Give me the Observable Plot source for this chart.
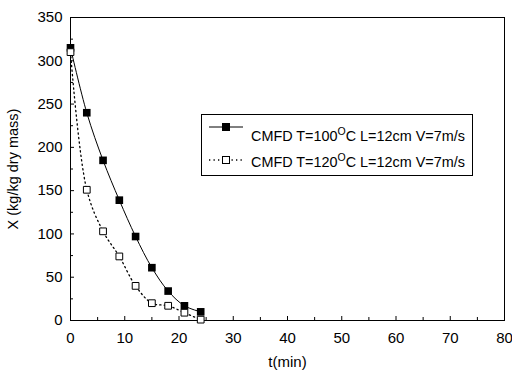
<!DOCTYPE html>
<html><head><meta charset="utf-8">
<script src="https://cdn.jsdelivr.net/npm/d3@7"></script>
<script src="https://cdn.jsdelivr.net/npm/@observablehq/plot@0.6"></script>
<style>
body{margin:0;background:#fff;font-family:"Liberation Sans",Arial,sans-serif}
#wrap{position:relative;width:512px;height:376px;overflow:hidden}
#legend{position:absolute;left:201px;top:114px;width:272px;height:62px;box-sizing:border-box;border:1px solid #000;background:#fff}
#legend svg{position:absolute;left:0;top:0}
</style></head><body>
<div id="wrap"></div>
<script>
// data
const time = [0, 3, 6, 9, 12, 15, 18, 21, 24];
const x100 = [315, 240, 185, 139, 97, 61, 34, 17, 10];
const x120 = [310, 151, 103, 74, 40, 20, 17, 9, 1];
const seriesNames = ["CMFD T=100", "CMFD T=120"];
const seriesSuffix = "C L=12cm V=7m/s";
const xTicks = [0, 10, 20, 30, 40, 50, 60, 70, 80];
const xMinor = [5, 15, 25, 35, 45, 55, 65, 75];
const yTicks = [0, 50, 100, 150, 200, 250, 300, 350];
const yMinor = [25, 75, 125, 175, 225, 275, 325];

const d100 = time.map((t, i) => ({t, X: x100[i]}));
const d120 = time.map((t, i) => ({t, X: x120[i]}));

const W = 512, H = 376, mL = 70, mR = 8, mT = 17, mB = 56;
const fw = W - mL - mR, fh = H - mT - mB;

const chart = Plot.plot({
  width: W, height: H,
  marginLeft: mL, marginRight: mR, marginTop: mT, marginBottom: mB,
  style: {fontFamily: '"Liberation Sans", Arial, sans-serif', fontSize: "15px", color: "#000", background: "#fff"},
  x: {domain: [0, 80]},
  y: {domain: [0, 350]},
  marks: [
    Plot.frame({stroke: "#000", strokeWidth: 1}),
    Plot.tickX(xTicks, {x: d => d, insetTop: fh - 4, stroke: "#000"}),
    Plot.tickX(xMinor, {x: d => d, insetTop: fh - 3, stroke: "#000"}),
    Plot.tickY(yTicks, {y: d => d, insetRight: fw - 4, stroke: "#000"}),
    Plot.tickY(yMinor, {y: d => d, insetRight: fw - 3, stroke: "#000"}),
    Plot.axisX({ticks: xTicks, tickSize: 0, tickPadding: 12, fontSize: 15, label: null}),
    Plot.axisY({ticks: yTicks, tickSize: 0, tickPadding: 8, fontSize: 15, label: null}),
    Plot.text(["t(min)"], {frameAnchor: "bottom", dy: 46, fontSize: 15, textAnchor: "middle"}),
    Plot.text(["X (kg/kg dry mass)"], {frameAnchor: "left", dx: -57, rotate: -90, fontSize: 14.5, textAnchor: "middle"}),
    Plot.line(d120, {x: "t", y: "X", curve: "catmull-rom", stroke: "#000", strokeWidth: 1.3, strokeDasharray: "1.3,3.2"}),
    Plot.line(d100, {x: "t", y: "X", curve: "catmull-rom", stroke: "#000", strokeWidth: 1}),
    Plot.dot(d100, {x: "t", y: "X", symbol: "square", r: 4.3, fill: "#000", stroke: "none"}),
    Plot.dot(d120, {x: "t", y: "X", symbol: "square", r: 3.8, fill: "#fff", stroke: "#000", strokeWidth: 1})
  ]
});
const wrap = document.getElementById("wrap");
wrap.appendChild(chart);

// legend
const leg = document.createElement("div");
leg.id = "legend";
const rows = [
  {name: seriesNames[0], y: 12, ty: 21, dash: null, fill: "#000"},
  {name: seriesNames[1], y: 45, ty: 47, dash: "1.3,3.2", fill: "#fff"}
];
let s = `<svg width="272" height="62" style="font-family:'Liberation Sans',Arial,sans-serif">`;
rows.forEach(r => {
  s += `<line x1="7" x2="41" y1="${r.y}" y2="${r.y}" stroke="#000" stroke-width="${r.dash ? 1.3 : 1}" ${r.dash ? `stroke-dasharray="${r.dash}"` : ""}/>`;
  s += `<rect x="${24 - 3.5}" y="${r.y - 3.5}" width="7" height="7" fill="${r.fill}" stroke="#000" stroke-width="1"/>`;
  s += `<text x="49" y="${r.ty + 5}" font-size="14.4">${r.name}<tspan dy="-6" font-size="10.5">O</tspan><tspan dy="6">${seriesSuffix}</tspan></text>`;
});
s += `</svg>`;
leg.innerHTML = s;
wrap.appendChild(leg);
</script>
</body></html>
